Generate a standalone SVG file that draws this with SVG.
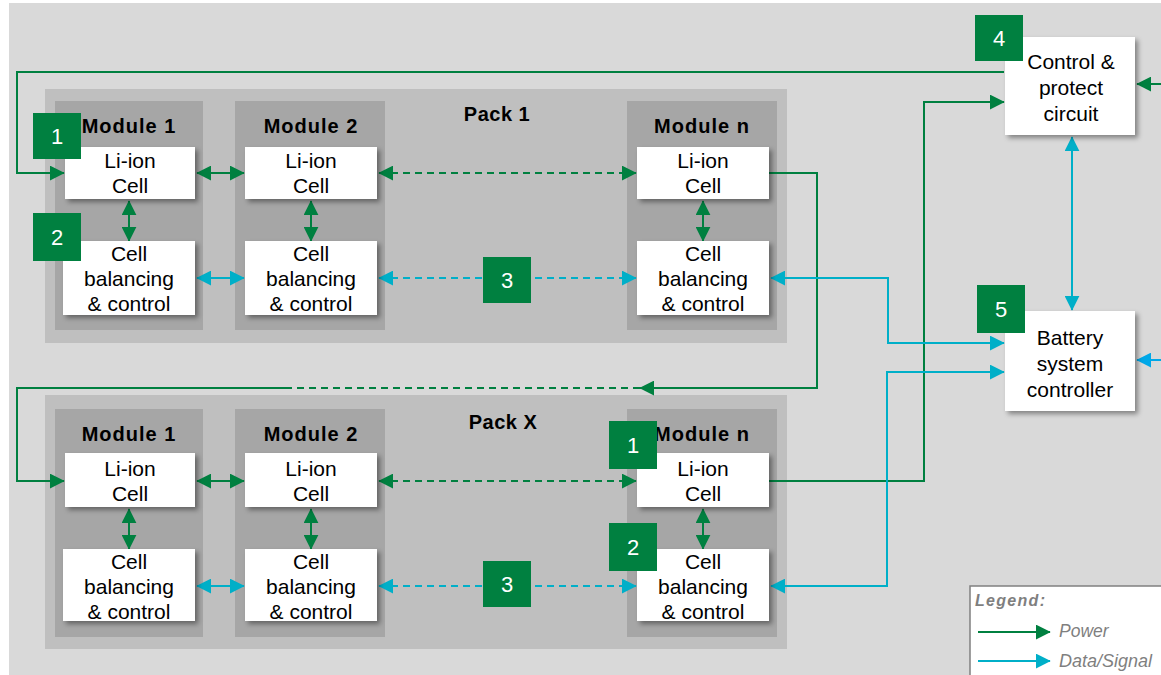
<svg xmlns="http://www.w3.org/2000/svg" width="1161" height="675" viewBox="0 0 1161 675">
<defs>
<style>
.bg{fill:#d9d9d9}
.pack{fill:#bfbfbf}
.mod{fill:#a6a6a6}
.box{fill:#ffffff;filter:url(#sh)}
.t{font-family:"Liberation Sans",Arial,sans-serif;font-size:21px;fill:#000;text-anchor:middle}
.mt{font-family:"Liberation Sans",Arial,sans-serif;font-size:20px;font-weight:bold;fill:#000;text-anchor:middle;letter-spacing:1px}
.pt{font-family:"Liberation Sans",Arial,sans-serif;font-size:20px;font-weight:bold;fill:#000;text-anchor:middle;letter-spacing:0.5px}
.bd{fill:#008040}
.bt{font-family:"Liberation Sans",Arial,sans-serif;font-size:22px;fill:#fff;text-anchor:middle}
.g{stroke:#008040;stroke-width:2;fill:none}
.c{stroke:#00afc8;stroke-width:2;fill:none}
.b{stroke:#00a8e8;stroke-width:2;fill:none}
.d{stroke-dasharray:7 5}
.lg{font-family:"Liberation Sans",Arial,sans-serif;font-style:italic;fill:#7f7f7f}
</style>
<filter id="sh" x="-10%" y="-10%" width="130%" height="140%">
<feDropShadow dx="3" dy="3" stdDeviation="2.5" flood-color="#000" flood-opacity="0.4"/>
</filter>
<marker id="ag" viewBox="0 0 10 10" refX="9.5" refY="5" markerWidth="15" markerHeight="15" markerUnits="userSpaceOnUse" orient="auto-start-reverse"><path d="M0,0L10,5L0,10z" fill="#008040"/></marker>
<marker id="ac" viewBox="0 0 10 10" refX="9.5" refY="5" markerWidth="15" markerHeight="15" markerUnits="userSpaceOnUse" orient="auto-start-reverse"><path d="M0,0L10,5L0,10z" fill="#00afc8"/></marker>
<marker id="ab" viewBox="0 0 10 10" refX="9.5" refY="5" markerWidth="15" markerHeight="15" markerUnits="userSpaceOnUse" orient="auto-start-reverse"><path d="M0,0L10,5L0,10z" fill="#00a8e8"/></marker>
</defs>

<rect class="bg" x="9" y="3" width="1152" height="672"/>

<g id="pack1">
<rect class="pack" x="45" y="89" width="742" height="254"/>
<text class="pt" x="497" y="121">Pack 1</text>
</g>
<g id="packX">
<rect class="pack" x="45" y="395" width="742" height="254"/>
<text class="pt" x="503" y="429">Pack X</text>
</g>

<g id="p1-module1">
<rect class="mod" x="55" y="101" width="148" height="229"/>
<text class="mt" x="129" y="133">Module 1</text>
</g>
<g id="p1-module2">
<rect class="mod" x="235" y="101" width="150" height="229"/>
<text class="mt" x="311" y="133">Module 2</text>
</g>
<g id="p1-modulen">
<rect class="mod" x="627" y="101" width="150" height="229"/>
<text class="mt" x="702" y="133">Module n</text>
</g>
<g id="pX-module1">
<rect class="mod" x="55" y="409" width="148" height="228"/>
<text class="mt" x="129" y="441">Module 1</text>
</g>
<g id="pX-module2">
<rect class="mod" x="235" y="409" width="150" height="228"/>
<text class="mt" x="311" y="441">Module 2</text>
</g>
<g id="pX-modulen">
<rect class="mod" x="627" y="409" width="150" height="228"/>
<text class="mt" x="702" y="441">Module n</text>
</g>

<g id="connectors">
<polyline class="g" points="1004,72 17,72 17,173 64,173" marker-end="url(#ag)"/>
<line class="g" x1="197" y1="173" x2="244" y2="173" marker-start="url(#ag)" marker-end="url(#ag)"/>
<line class="g d" x1="379" y1="173" x2="636" y2="173" marker-start="url(#ag)" marker-end="url(#ag)"/>
<line class="g" x1="129" y1="201" x2="129" y2="241" marker-start="url(#ag)" marker-end="url(#ag)"/>
<line class="g" x1="311" y1="201" x2="311" y2="241" marker-start="url(#ag)" marker-end="url(#ag)"/>
<line class="g" x1="703" y1="201" x2="703" y2="241" marker-start="url(#ag)" marker-end="url(#ag)"/>
<line class="c" x1="197" y1="278" x2="244" y2="278" marker-start="url(#ac)" marker-end="url(#ac)"/>
<line class="c d" x1="379" y1="278" x2="636" y2="278" marker-start="url(#ac)" marker-end="url(#ac)"/>
<polyline class="g" points="769,173 817,173 817,388 640,388" marker-end="url(#ag)"/>
<line class="g d" x1="640" y1="388" x2="286" y2="388"/>
<polyline class="g" points="286,388 17,388 17,481 64,481" marker-end="url(#ag)"/>
<line class="g" x1="197" y1="481" x2="244" y2="481" marker-start="url(#ag)" marker-end="url(#ag)"/>
<line class="g d" x1="379" y1="481" x2="636" y2="481" marker-start="url(#ag)" marker-end="url(#ag)"/>
<line class="g" x1="129" y1="509" x2="129" y2="549" marker-start="url(#ag)" marker-end="url(#ag)"/>
<line class="g" x1="311" y1="509" x2="311" y2="549" marker-start="url(#ag)" marker-end="url(#ag)"/>
<line class="g" x1="703" y1="509" x2="703" y2="549" marker-start="url(#ag)" marker-end="url(#ag)"/>
<line class="c" x1="197" y1="586" x2="244" y2="586" marker-start="url(#ac)" marker-end="url(#ac)"/>
<line class="c d" x1="379" y1="586" x2="636" y2="586" marker-start="url(#ac)" marker-end="url(#ac)"/>
<polyline class="g" points="769,481 924,481 924,102 1004,102" marker-end="url(#ag)"/>
<polyline class="c" points="1004,343 888,343 888,278 771,278" marker-start="url(#ac)" marker-end="url(#ac)"/>
<polyline class="c" points="1004,372 887,372 887,586 771,586" marker-start="url(#ac)" marker-end="url(#ac)"/>
<line class="c" x1="1072" y1="137" x2="1072" y2="310" marker-start="url(#ac)" marker-end="url(#ac)"/>
<line class="g" x1="1161" y1="84" x2="1137" y2="84" marker-end="url(#ag)"/>
<line class="b" x1="1161" y1="360" x2="1137" y2="360" marker-end="url(#ab)"/>
</g>

<g id="p1-m1-cell"><rect class="box" x="65" y="147" width="130" height="52"/><text class="t" x="130" y="168">Li-ion</text><text class="t" x="130" y="193">Cell</text></g>
<g id="p1-m2-cell"><rect class="box" x="245" y="147" width="132" height="52"/><text class="t" x="311" y="168">Li-ion</text><text class="t" x="311" y="193">Cell</text></g>
<g id="p1-mn-cell"><rect class="box" x="637" y="147" width="132" height="52"/><text class="t" x="703" y="168">Li-ion</text><text class="t" x="703" y="193">Cell</text></g>
<g id="p1-m1-bal"><rect class="box" x="63" y="241" width="132" height="74"/><text class="t" x="129" y="261">Cell</text><text class="t" x="129" y="286">balancing</text><text class="t" x="129" y="311">&amp; control</text></g>
<g id="p1-m2-bal"><rect class="box" x="245" y="241" width="132" height="74"/><text class="t" x="311" y="261">Cell</text><text class="t" x="311" y="286">balancing</text><text class="t" x="311" y="311">&amp; control</text></g>
<g id="p1-mn-bal"><rect class="box" x="637" y="241" width="132" height="74"/><text class="t" x="703" y="261">Cell</text><text class="t" x="703" y="286">balancing</text><text class="t" x="703" y="311">&amp; control</text></g>

<g id="pX-m1-cell"><rect class="box" x="65" y="453" width="130" height="54"/><text class="t" x="130" y="476">Li-ion</text><text class="t" x="130" y="501">Cell</text></g>
<g id="pX-m2-cell"><rect class="box" x="245" y="453" width="132" height="54"/><text class="t" x="311" y="476">Li-ion</text><text class="t" x="311" y="501">Cell</text></g>
<g id="pX-mn-cell"><rect class="box" x="637" y="453" width="132" height="54"/><text class="t" x="703" y="476">Li-ion</text><text class="t" x="703" y="501">Cell</text></g>
<g id="pX-m1-bal"><rect class="box" x="63" y="549" width="132" height="72"/><text class="t" x="129" y="569">Cell</text><text class="t" x="129" y="594">balancing</text><text class="t" x="129" y="619">&amp; control</text></g>
<g id="pX-m2-bal"><rect class="box" x="245" y="549" width="132" height="72"/><text class="t" x="311" y="569">Cell</text><text class="t" x="311" y="594">balancing</text><text class="t" x="311" y="619">&amp; control</text></g>
<g id="pX-mn-bal"><rect class="box" x="637" y="549" width="132" height="72"/><text class="t" x="703" y="569">Cell</text><text class="t" x="703" y="594">balancing</text><text class="t" x="703" y="619">&amp; control</text></g>

<g id="control-protect"><rect class="box" x="1005" y="37" width="130" height="98"/><text class="t" x="1071" y="69">Control &amp;</text><text class="t" x="1071" y="95">protect</text><text class="t" x="1071" y="121">circuit</text></g>
<g id="battery-controller"><rect class="box" x="1005" y="311" width="130" height="100"/><text class="t" x="1070" y="345">Battery</text><text class="t" x="1070" y="371">system</text><text class="t" x="1070" y="397">controller</text></g>

<g id="badge-1a"><rect class="bd" x="33" y="113" width="48" height="46"/><text class="bt" x="57" y="144">1</text></g>
<g id="badge-2a"><rect class="bd" x="33" y="213" width="48" height="48"/><text class="bt" x="57" y="245">2</text></g>
<g id="badge-3a"><rect class="bd" x="483" y="257" width="48" height="46"/><text class="bt" x="507" y="288">3</text></g>
<g id="badge-1b"><rect class="bd" x="609" y="421" width="48" height="48"/><text class="bt" x="633" y="453">1</text></g>
<g id="badge-2b"><rect class="bd" x="609" y="523" width="48" height="48"/><text class="bt" x="633" y="555">2</text></g>
<g id="badge-3b"><rect class="bd" x="483" y="561" width="48" height="46"/><text class="bt" x="507" y="592">3</text></g>
<g id="badge-4"><rect class="bd" x="975" y="15" width="48" height="46"/><text class="bt" x="999" y="46">4</text></g>
<g id="badge-5"><rect class="bd" x="977" y="285" width="48" height="48"/><text class="bt" x="1001" y="317">5</text></g>

<g id="legend">
<rect x="970" y="586" width="200" height="100" fill="#fff" stroke="#808080" stroke-width="1.5"/>
<text class="lg" x="975" y="606" font-size="16" font-weight="bold" letter-spacing="1.3">Legend:</text>
<line class="g" x1="978" y1="632" x2="1050" y2="632" marker-end="url(#ag)"/>
<text class="lg" x="1059" y="637" font-size="17.5">Power</text>
<line class="c" x1="978" y1="661" x2="1050" y2="661" marker-end="url(#ac)"/>
<text class="lg" x="1059" y="667" font-size="18">Data/Signal</text>
</g>
</svg>
